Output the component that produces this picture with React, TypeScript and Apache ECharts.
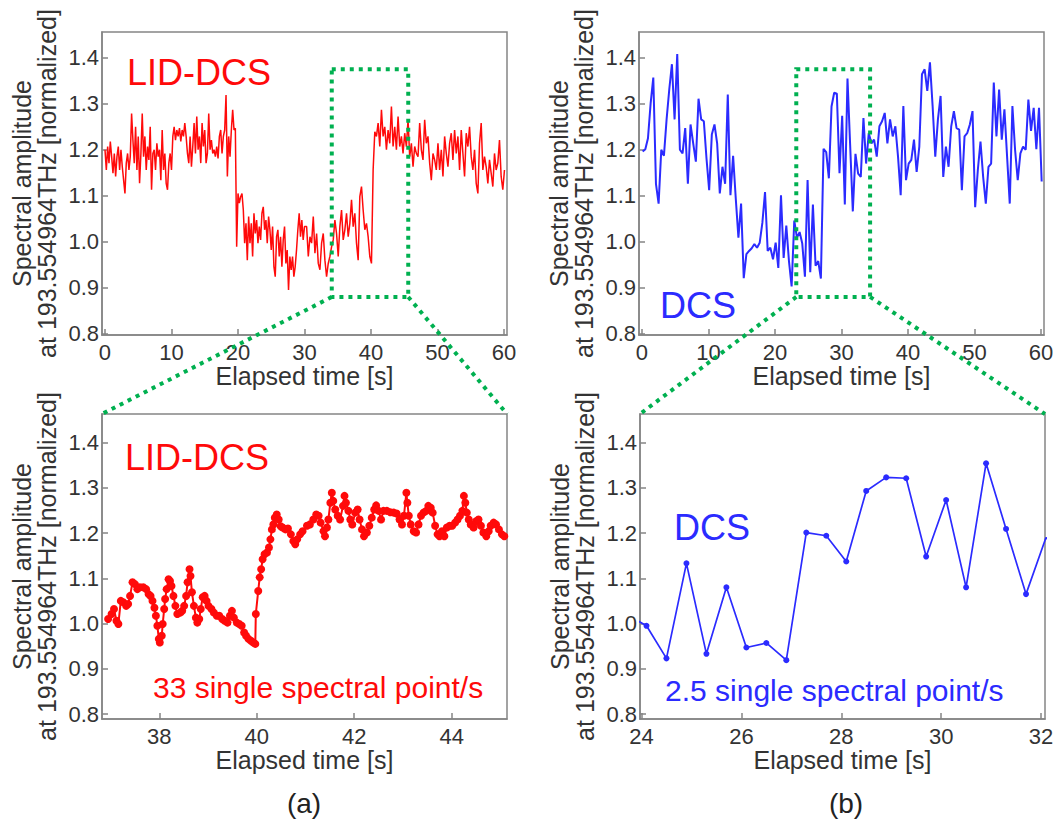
import React, { useEffect, useRef } from "react";
import * as echarts from "echarts";

// ---- LID-DCS overview trace (top-left) ----
// first part sampled every 0.2 s from 0 s
const LID_EARLY_START = 0;
const LID_EARLY_STEP = 0.2;
const lidOverviewEarly = [
  1.199, 1.155, 1.206, 1.17, 1.217, 1.184, 1.148, 1.191, 1.141, 1.184,
  1.206, 1.155, 1.199, 1.162, 1.133, 1.104, 1.17, 1.191, 1.155, 1.184,
  1.278, 1.22, 1.17, 1.249, 1.155, 1.228, 1.126, 1.191, 1.278, 1.184,
  1.228, 1.155, 1.206, 1.177, 1.249, 1.112, 1.191, 1.199, 1.155, 1.213,
  1.184, 1.199, 1.133, 1.242, 1.155, 1.191, 1.126, 1.112, 1.17, 1.191,
  1.155, 1.228, 1.249, 1.22, 1.242, 1.228, 1.246, 1.217, 1.242, 1.228,
  1.257, 1.228, 1.191, 1.17, 1.228, 1.162, 1.206, 1.257, 1.191, 1.271,
  1.199, 1.228, 1.17, 1.257, 1.206, 1.242, 1.17, 1.191, 1.278, 1.199,
  1.22, 1.191, 1.199, 1.184, 1.206, 1.18, 1.228, 1.242, 1.191, 1.228,
  1.242, 1.318, 1.141, 1.228, 1.184, 1.242, 1.286, 1.242, 1.246, 0.988,
  1.104, 1.083, 1.097, 1.104, 1.068, 0.996, 1.039, 0.959, 1.054, 0.996,
  1.039, 0.967, 1.061, 1.017, 1.046, 0.996, 1.032, 1.003, 1.061, 1.075,
  1.025, 1.046, 0.996, 1.054, 1.025, 0.981, 1.032, 0.945, 0.923, 1.01,
  1.025, 0.967, 1.01, 0.945, 1.003, 1.032, 0.952, 0.981, 0.894, 0.967,
  0.938, 0.967, 0.923, 0.945, 0.981, 1.025, 1.061, 1.01, 1.046, 1.003,
  1.032,
];
// second part sampled every 0.25 s from 30.32 s
const LID_LATE_START = 30.32;
const LID_LATE_STEP = 0.25;
const lidOverviewLate = [
  1.032, 0.967, 1.01, 0.996, 1.054, 0.974, 1.017, 0.952, 0.938, 0.996,
  1.017, 0.959, 0.923, 0.952, 0.967, 0.988, 1.003, 1.046, 1.017, 0.967,
  1.032, 1.068, 1.003, 1.025, 1.061, 1.01, 1.039, 1.09, 1.032, 1.061,
  0.996, 0.959, 1.097, 1.119, 1.068, 1.025, 1.039, 1.01, 0.967, 0.952,
  1.155, 1.238, 1.228, 1.257, 1.206, 1.286, 1.228, 1.249, 1.199, 1.242,
  1.213, 1.293, 1.206, 1.249, 1.199, 1.271, 1.206, 1.228, 1.191, 1.235,
  1.206, 1.264, 1.184, 1.213, 1.162, 1.206, 1.191, 1.184, 1.257, 1.199,
  1.177, 1.264, 1.213, 1.228, 1.17, 1.133, 1.191, 1.177, 1.155, 1.213,
  1.155, 1.199, 1.141, 1.228, 1.191, 1.162, 1.213, 1.235, 1.177, 1.242,
  1.191, 1.228, 1.155, 1.242, 1.191, 1.141, 1.235, 1.206, 1.249, 1.184,
  1.155, 1.199, 1.126, 1.104, 1.213, 1.257, 1.155, 1.184, 1.162, 1.126,
  1.177, 1.148, 1.119, 1.191, 1.155, 1.17, 1.22, 1.141, 1.112, 1.155,
];

// ---- LID-DCS detail (bottom-left), 33 single spectral points per second ----
const lidZoomTime = [
  36.95, 37.02, 37.07, 37.12, 37.16, 37.21, 37.26, 37.32, 37.36, 37.4,
  37.45, 37.5, 37.55, 37.6, 37.67, 37.73, 37.78, 37.82, 37.86, 37.9,
  37.93, 37.96, 37.99, 38.01, 38.05, 38.07, 38.1, 38.12, 38.15, 38.19,
  38.22, 38.25, 38.29, 38.33, 38.37, 38.43, 38.47, 38.51, 38.55, 38.58,
  38.62, 38.64, 38.67, 38.71, 38.75, 38.78, 38.82, 38.85, 38.89, 38.93,
  38.97, 39.01, 39.07, 39.12, 39.18, 39.23, 39.29, 39.34, 39.4, 39.45,
  39.49, 39.53, 39.59, 39.64, 39.69, 39.74, 39.78, 39.83, 39.88, 39.93,
  39.97, 39.98, 40.03, 40.06, 40.09, 40.12, 40.16, 40.21, 40.25, 40.28,
  40.31, 40.34, 40.37, 40.41, 40.45, 40.49, 40.53, 40.59, 40.64, 40.7,
  40.75, 40.79, 40.83, 40.89, 40.94, 41.03, 41.09, 41.16, 41.22, 41.27,
  41.31, 41.37, 41.4, 41.44, 41.47, 41.51, 41.54, 41.57, 41.61, 41.66,
  41.71, 41.77, 41.8, 41.83, 41.88, 41.92, 41.96, 42.02, 42.07, 42.11,
  42.16, 42.2, 42.26, 42.31, 42.36, 42.41, 42.45, 42.5, 42.55, 42.6,
  42.67, 42.74, 42.81, 42.87, 42.93, 42.98, 43.02, 43.07, 43.09, 43.12,
  43.16, 43.22, 43.27, 43.32, 43.37, 43.42, 43.48, 43.52, 43.57, 43.61,
  43.66, 43.71, 43.75, 43.8, 43.85, 43.9, 43.96, 44.01, 44.07, 44.12,
  44.17, 44.22, 44.25, 44.28, 44.31, 44.35, 44.39, 44.45, 44.5, 44.55,
  44.6, 44.65, 44.71, 44.76, 44.8, 44.86, 44.91, 44.97, 45.03, 45.08,
];
const lidZoomAmp = [
  1.01, 1.021, 1.032, 1.006, 0.999, 1.05, 1.047, 1.039, 1.043, 1.061,
  1.091, 1.087, 1.076, 1.08, 1.08, 1.076, 1.065, 1.061, 1.05, 1.035,
  1.017, 0.995, 0.966, 0.958, 0.973, 0.999, 1.032, 1.054, 1.076, 1.098,
  1.094, 1.083, 1.061, 1.039, 1.021, 1.024, 1.028, 1.039, 1.061, 1.091,
  1.12, 1.105, 1.069, 1.039, 1.013, 1.002, 1.01, 1.032, 1.058, 1.061,
  1.05, 1.039, 1.032, 1.024, 1.017, 1.017, 1.01, 1.006, 1.002, 1.017,
  1.028, 1.013, 1.002, 0.999, 0.995, 0.98, 0.973, 0.966, 0.962, 0.958,
  0.955, 1.021, 1.072, 1.102, 1.12, 1.142, 1.153, 1.157, 1.168, 1.186,
  1.208, 1.219, 1.234, 1.241, 1.23, 1.215, 1.212, 1.208, 1.21, 1.197,
  1.182, 1.175, 1.186, 1.197, 1.204, 1.216, 1.219, 1.23, 1.241, 1.238,
  1.223, 1.204, 1.193, 1.212, 1.23, 1.267, 1.289, 1.271, 1.252, 1.238,
  1.23, 1.26, 1.282, 1.267, 1.249, 1.23, 1.219, 1.245, 1.252, 1.23,
  1.208, 1.193, 1.201, 1.216, 1.234, 1.252, 1.261, 1.249, 1.23, 1.249,
  1.249, 1.246, 1.245, 1.243, 1.23, 1.219, 1.238, 1.289, 1.267, 1.238,
  1.219, 1.204, 1.201, 1.219, 1.238, 1.245, 1.249, 1.26, 1.256, 1.245,
  1.216, 1.197, 1.193, 1.204, 1.193, 1.212, 1.216, 1.216, 1.223, 1.23,
  1.238, 1.249, 1.282, 1.267, 1.245, 1.23, 1.219, 1.212, 1.226, 1.23,
  1.216, 1.201, 1.193, 1.204, 1.216, 1.223, 1.219, 1.208, 1.197, 1.193,
];

// ---- DCS trace, 2.5 single spectral points per second (both right panels) ----
const DCS_START = 0.1;
const DCS_STEP = 0.4;
const dcsAmp = [
  1.195, 1.2, 1.224, 1.3, 1.356, 1.125, 1.082, 1.199, 1.186, 1.265,
  1.33, 1.385, 1.265, 1.407, 1.199, 1.191, 1.246, 1.125, 1.254, 1.213,
  1.173, 1.31, 1.265, 1.261, 1.18, 1.111, 1.232, 1.254, 1.213, 1.104,
  1.162, 1.125, 1.319, 1.1, 1.186, 1.093, 1.008, 1.082, 0.92, 0.972,
  0.979, 0.985, 0.994, 0.986, 0.997, 1.04, 1.107, 0.979, 0.986, 0.961,
  0.997, 0.942, 1.1, 0.964, 1.034, 0.957, 0.902, 1.045, 1.008, 1.02,
  0.995, 0.923, 1.133, 0.933, 1.08, 0.947, 0.957, 0.919, 1.201, 1.194,
  1.137, 1.293, 1.323, 1.321, 1.148, 1.273, 1.08, 1.354, 1.209, 1.065,
  1.19, 1.147, 1.14, 1.268, 1.169, 1.235, 1.213, 1.221, 1.184, 1.25,
  1.261, 1.279, 1.213, 1.265, 1.228, 1.25, 1.184, 1.1, 1.294, 1.133,
  1.169, 1.177, 1.221, 1.151, 1.206, 1.363, 1.374, 1.327, 1.389, 1.294,
  1.184, 1.265, 1.316, 1.14, 1.206, 1.162, 1.25, 1.283, 1.246, 1.243,
  1.111, 1.228, 1.235, 1.254, 1.283, 1.074, 1.155, 1.217, 1.14, 1.082,
  1.162, 1.169, 1.345, 1.228, 1.33, 1.221, 1.287, 1.184, 1.082, 1.294,
  1.199, 1.133, 1.191, 1.206, 1.199, 1.308, 1.24, 1.29, 1.2, 1.29,
  1.13,
];

// ---- axis ticks ----
const amplitudeTicks = [0.8, 0.9, 1.0, 1.1, 1.2, 1.3, 1.4];
const overviewTimeTicks = [0, 10, 20, 30, 40, 50, 60];
const lidZoomTimeTicks = [38, 40, 42, 44];
const dcsZoomTimeTicks = [24, 26, 28, 30, 32];

// zoomed windows marked on the overview panels [t0, t1, a0, a1]
const lidWindow = [34.1, 45.6, 0.879, 1.374];
const dcsWindow = [23.2, 34.3, 0.879, 1.374];

const FONT = '"Liberation Sans", Arial, Helvetica, sans-serif';
const RED = "#ff0a0a";
const BLUE = "#2b2bff";
const GREEN = "#00b050";
const FRAME = "#858585";
const TEXT = "#333333";

const Y_NAME = "Spectral amplitude\nat 193.554964THz [normalized]";

type Panel = {
  grid: { left: number; top: number; width: number; height: number };
  x: [number, number];
  y: [number, number];
  xTicks: number[];
};

const panels: Panel[] = [
  { grid: { left: 102, top: 32, width: 405, height: 303 }, x: [-0.45, 60.45], y: [0.7963, 1.455], xTicks: overviewTimeTicks },
  { grid: { left: 639, top: 32, width: 405, height: 303 }, x: [-0.45, 60.45], y: [0.7963, 1.455], xTicks: overviewTimeTicks },
  { grid: { left: 102, top: 414, width: 405, height: 305 }, x: [36.824, 45.135], y: [0.789, 1.463], xTicks: lidZoomTimeTicks },
  { grid: { left: 640, top: 414, width: 405, height: 305 }, x: [23.97, 32.08], y: [0.789, 1.463], xTicks: dcsZoomTimeTicks },
];

const sampled = (start: number, step: number, values: number[]) =>
  values.map((v, i) => [+(start + i * step).toFixed(3), v]);

const lidOverviewData = [
  ...sampled(LID_EARLY_START, LID_EARLY_STEP, lidOverviewEarly),
  ...sampled(LID_LATE_START, LID_LATE_STEP, lidOverviewLate),
];
const lidZoomData = lidZoomTime.map((t, i) => [t, lidZoomAmp[i]]);
const dcsData = sampled(DCS_START, DCS_STEP, dcsAmp);

const axisLineStyle = { color: FRAME, width: 1.5 };

function buildOption() {
  return {
    animation: false,
    backgroundColor: "#ffffff",
    grid: panels.map((p) => ({
      ...p.grid,
      show: true,
      borderColor: FRAME,
      borderWidth: 1.5,
      backgroundColor: "transparent",
      containLabel: false,
    })),
    xAxis: panels.map((p, i) => ({
      type: "value",
      gridIndex: i,
      min: p.x[0],
      max: p.x[1],
      name: "Elapsed time [s]",
      nameLocation: "middle",
      nameGap: 26,
      nameTextStyle: { fontFamily: FONT, fontSize: 25, color: TEXT },
      axisLine: { show: true, onZero: false, lineStyle: axisLineStyle },
      axisTick: { show: true, inside: true, length: 6, customValues: p.xTicks, lineStyle: axisLineStyle },
      axisLabel: {
        customValues: p.xTicks,
        margin: 6,
        fontFamily: FONT,
        fontSize: 22,
        color: TEXT,
        formatter: (v: number) => String(v),
      },
      splitLine: { show: false },
    })),
    yAxis: panels.map((p, i) => ({
      type: "value",
      gridIndex: i,
      min: p.y[0],
      max: p.y[1],
      name: Y_NAME,
      nameLocation: "middle",
      nameGap: 43,
      nameTextStyle: { fontFamily: FONT, fontSize: 25, lineHeight: 25, color: TEXT },
      axisLine: { show: true, onZero: false, lineStyle: axisLineStyle },
      axisTick: { show: true, inside: true, length: 6, customValues: amplitudeTicks, lineStyle: axisLineStyle },
      axisLabel: {
        customValues: amplitudeTicks,
        margin: 3,
        fontFamily: FONT,
        fontSize: 22,
        color: TEXT,
        formatter: (v: number) => v.toFixed(1),
      },
      splitLine: { show: false },
    })),
    series: [
      {
        type: "line",
        xAxisIndex: 0,
        yAxisIndex: 0,
        data: lidOverviewData,
        showSymbol: false,
        lineStyle: { color: RED, width: 1.5 },
        itemStyle: { color: RED },
        clip: true,
      },
      {
        type: "line",
        xAxisIndex: 1,
        yAxisIndex: 1,
        data: dcsData,
        showSymbol: false,
        lineStyle: { color: BLUE, width: 2 },
        itemStyle: { color: BLUE },
        clip: true,
      },
      {
        type: "line",
        xAxisIndex: 2,
        yAxisIndex: 2,
        data: lidZoomData,
        symbol: "circle",
        symbolSize: 8,
        showSymbol: true,
        lineStyle: { color: RED, width: 2 },
        itemStyle: { color: RED },
        clip: true,
      },
      {
        type: "line",
        xAxisIndex: 3,
        yAxisIndex: 3,
        data: dcsData,
        symbol: "circle",
        symbolSize: 6,
        showSymbol: true,
        lineStyle: { color: BLUE, width: 1.7 },
        itemStyle: { color: BLUE },
        clip: true,
      },
    ],
  };
}

function label(text: string, x: number, y: number, color: string, size: number, align = "left") {
  return {
    type: "text",
    x,
    y,
    z: 20,
    style: { text, fill: color, fontSize: size, fontFamily: FONT, align, verticalAlign: "middle" },
  };
}

function buildGraphics(chart: echarts.ECharts) {
  const px = (gridIndex: number, x: number, y: number) =>
    chart.convertToPixel({ gridIndex } as any, [x, y]) as number[];
  const dotted = { stroke: GREEN, lineWidth: 4, lineDash: [4, 5], fill: "none" };

  const windowMarks = (overview: number, detail: number, w: number[]) => {
    const [t0, t1, a0, a1] = w;
    const tl = px(overview, t0, a1);
    const br = px(overview, t1, a0);
    const d = panels[detail];
    const dl = px(detail, d.x[0], d.y[1]);
    const dr = px(detail, d.x[1], d.y[1]);
    return [
      {
        type: "rect",
        z: 15,
        shape: { x: tl[0], y: tl[1], width: br[0] - tl[0], height: br[1] - tl[1] },
        style: dotted,
      },
      { type: "line", z: 15, shape: { x1: tl[0], y1: br[1], x2: dl[0], y2: dl[1] }, style: dotted },
      { type: "line", z: 15, shape: { x1: br[0], y1: br[1], x2: dr[0], y2: dr[1] }, style: dotted },
    ];
  };

  return [
    ...windowMarks(0, 2, lidWindow),
    ...windowMarks(1, 3, dcsWindow),
    label("LID-DCS", 127, 72, RED, 36),
    label("DCS", 660, 305, BLUE, 36),
    label("LID-DCS", 125, 457, RED, 36),
    label("33 single spectral point/s", 153, 687, RED, 30),
    label("DCS", 674, 527, BLUE, 36),
    label("2.5 single spectral point/s", 665, 690, BLUE, 30),
    label("(a)", 304, 803, "#222222", 28, "center"),
    label("(b)", 846, 803, "#222222", 28, "center"),
  ];
}

export default function App() {
  const ref = useRef<HTMLDivElement>(null);

  useEffect(() => {
    const el = ref.current;
    if (!el) return;
    const chart = echarts.init(el, null, { renderer: "svg" });
    chart.setOption(buildOption() as any);
    chart.setOption({ graphic: buildGraphics(chart) } as any);
    return () => chart.dispose();
  }, []);

  return (
    <div
      ref={ref}
      style={{ position: "absolute", left: 0, top: 0, width: 1057, height: 822, background: "#ffffff" }}
    />
  );
}
